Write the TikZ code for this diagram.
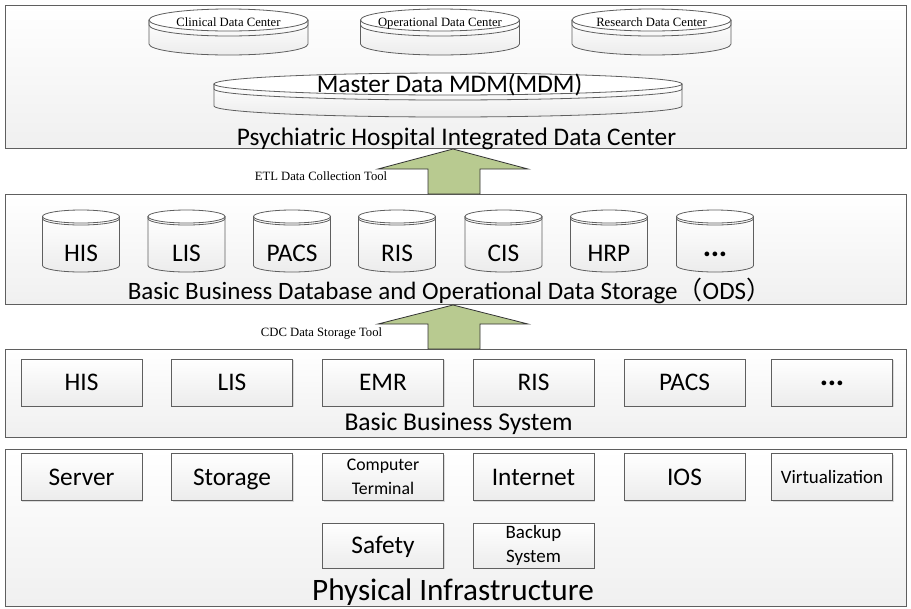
\documentclass[tikz,border=0pt]{standalone}
\usepackage{fontspec}
\setmainfont{Carlito}
\newfontfamily\tnr{Liberation Serif}
\newfontfamily\cjk{Noto Sans CJK SC}
\usetikzlibrary{shadows}
\definecolor{arrowgreen}{RGB}{184,202,144}
\definecolor{edgegray}{RGB}{95,95,95}
\tikzset{
  panel/.style={draw=edgegray, line width=0.7pt, top color=white, bottom color=gray!12, inner sep=0pt, anchor=north west, minimum width={901*0.75pt}},
  sbox/.style={draw=edgegray, line width=0.6pt, top color=white, bottom color=gray!15, inner sep=0pt, align=center,
     minimum width={121*0.75pt}, minimum height={47*0.75pt},
     drop shadow={opacity=0.25, shadow xshift=1pt, shadow yshift=-1pt}},
  cylbody/.style={draw=edgegray, line width=0.6pt, top color=white, bottom color=gray!15},
  cyltop/.style={draw=edgegray, line width=0.6pt, fill=white},
  cylline/.style={draw=edgegray, line width=0.6pt},
  blockarrow/.style={draw=black!80, line width=0.6pt, fill=arrowgreen},
  smallserif/.style={font=\tnr\fontsize{9.5}{11}\selectfont, inner sep=0pt, anchor=base},
  title/.style={inner sep=0pt, anchor=base},
  cyltext/.style={font=\fontsize{19}{22}\selectfont, inner sep=0pt, anchor=base},
  boxtext/.style={font=\fontsize{19}{22}\selectfont, text height=12.2pt, text depth=0pt},
  smalltext/.style={font=\fontsize{13.3}{18}\selectfont},
}
\newcommand\dbcyl[6]{%
  \pgfmathsetmacro\hw{#3/2}%
  \pgfmathsetmacro\yc{#2+#5}%
  \pgfmathsetmacro\yb{#4-#5}%
  \pgfmathsetmacro\yr{#2+#5+#6}%
  \draw[cylbody] (#1-\hw,\yc) -- (#1-\hw,\yb) arc[start angle=180,end angle=0,x radius=\hw,y radius=#5] -- (#1+\hw,\yc) -- cycle;
  \draw[cyltop] (#1,\yc) ellipse[x radius=\hw,y radius=#5];
  \draw[cylline] (#1-\hw,\yc) -- (#1-\hw,\yr) arc[start angle=180,end angle=0,x radius=\hw,y radius=#5] -- (#1+\hw,\yc);
}
\newcommand\mydots{\textbf{·\kern1pt·\kern1pt·}}
\begin{document}
\begin{tikzpicture}[x=0.75pt,y=-0.75pt]
\useasboundingbox (0,0) rectangle (911,608);
% panels
\node[panel, minimum height={143*0.75pt}] (L1) at (5,5) {};
\node[panel, minimum height={110*0.75pt}] (L2) at (5,194) {};
\node[panel, minimum height={88*0.75pt}] (L3) at (5,349) {};
\node[panel, minimum height={157*0.75pt}] (L4) at (5,449) {};
% top layer
\dbcyl{228.5}{9}{159}{55}{11}{5}
\dbcyl{440}{9}{159}{55}{11}{5}
\dbcyl{651.5}{9}{159}{55}{11}{5}
\node[smallserif] (cdc) at (228.5,26.5) {Clinical Data Center};
\node[smallserif] (odc) at (440,26.5) {Operational Data Center};
\node[smallserif] (rdc) at (651.5,26.5) {Research Data Center};
\dbcyl{448}{73}{468}{117}{11}{5}
\node[title, font=\fontsize{19}{22}\selectfont] (mdm) at (449.5,92.7) {Master Data MDM(MDM)};
\node[title, font=\fontsize{19}{22}\selectfont] (t1) at (456.5,145) {Psychiatric Hospital Integrated Data Center};
% arrows
\draw[blockarrow] (453,149) -- (528,169) -- (480,169) -- (480,194) -- (428,194) -- (428,169) -- (378,169) -- cycle;
\node[smallserif] (etl) at (321,180.7) {ETL Data Collection Tool};
\draw[blockarrow] (453,305) -- (528,324) -- (480,324) -- (480,349) -- (428,349) -- (428,324) -- (378,324) -- cycle;
\node[smallserif] (cdcl) at (321.5,336.7) {CDC Data Storage Tool};
% second layer
\foreach \cx/\nm/\lab in {81/d1/HIS,186.5/d2/LIS,292/d3/PACS,397/d4/RIS,503.5/d5/CIS,609/d6/HRP,715/d7/\mydots}{
  \dbcyl{\cx}{210}{77}{272}{6.5}{2}
  \node[cyltext] (\nm) at (\cx,261.7) {\lab};
}
\node[title, font=\fontsize{18.75}{22}\selectfont] (t2) at (449.5,299.3) {Basic Business Database and Operational Data Storage{\cjk （}ODS{\cjk ）}};
% third layer
\foreach \cx/\nm/\lab in {81.5/s1/HIS,232/s2/LIS,383/s3/EMR,533.5/s4/RIS,684.5/s5/PACS,832/s6/\mydots}{
  \node[sbox, boxtext] (\nm) at (\cx,382.5) {\lab};
}
\node[title, font=\fontsize{19.2}{22}\selectfont] (t3) at (458.5,430.7) {Basic Business System};
% fourth layer
\node[sbox, boxtext] (p1) at (81.5,477) {Server};
\node[sbox, boxtext] (p2) at (232,477) {Storage};
\node[sbox, smalltext] (p3) at (383,477) {Computer\\Terminal};
\node[sbox, boxtext] (p4) at (533.5,477) {Internet};
\node[sbox, boxtext] (p5) at (684.5,477) {IOS};
\node[sbox, font=\fontsize{14.2}{18}\selectfont] (p6) at (832,477) {Virtualization};
\node[sbox, boxtext, minimum height={45*0.75pt}] (p7) at (383,545.5) {Safety};
\node[sbox, font=\fontsize{14.2}{17.5}\selectfont, minimum height={45*0.75pt}] (p8) at (533.5,545.5) {Backup\\System};
\node[title, font=\fontsize{23.4}{27}\selectfont] (t4) at (453,600) {Physical Infrastructure};
\end{tikzpicture}
\end{document}
